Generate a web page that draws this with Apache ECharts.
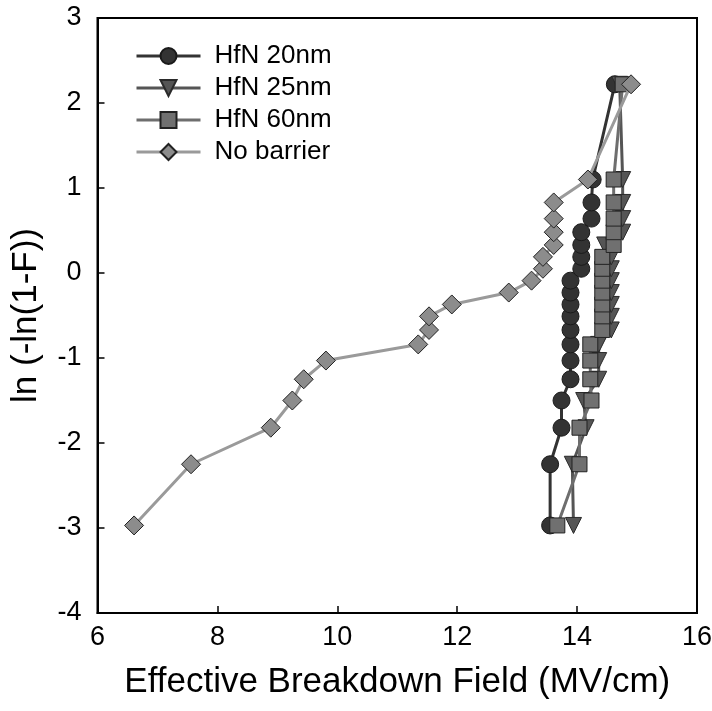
<!DOCTYPE html>
<html>
<head>
<meta charset="utf-8">
<script src="https://cdn.jsdelivr.net/npm/echarts@6/dist/echarts.min.js"></script>
<style>
  html, body { margin: 0; padding: 0; background: #fff; }
  #chart { width: 712px; height: 711px; }
</style>
</head>
<body>
<div id="chart"></div>
<script>
// Weibull plot levels: ln(-ln(1-F)) for the 20 cumulative ranks
const weibullLevels = [-2.97, -2.25, -1.82, -1.50, -1.25, -1.03, -0.84, -0.67, -0.51, -0.37,
                       -0.23, -0.09, 0.05, 0.19, 0.33, 0.48, 0.64, 0.83, 1.10, 2.22];

// Effective breakdown field (MV/cm) for each sample, sorted by rank
const hfn20Field = [13.55, 13.55, 13.74, 13.74, 13.89, 13.89, 13.89, 13.89, 13.89, 13.89,
                    13.89, 13.89, 14.07, 14.07, 14.07, 14.07, 14.24, 14.24, 14.26, 14.63];
const hfn25Field = [13.94, 13.92, 14.15, 14.11, 14.36, 14.36, 14.36, 14.57, 14.57, 14.57,
                    14.57, 14.57, 14.57, 14.57, 14.46, 14.76, 14.76, 14.76, 14.76, 14.71];
const hfn60Field = [13.67, 14.04, 14.04, 14.24, 14.22, 14.22, 14.22, 14.42, 14.42, 14.42,
                    14.42, 14.42, 14.42, 14.42, 14.61, 14.61, 14.61, 14.61, 14.61, 14.76];
const noBarrierField = [6.61, 7.56, 8.89, 9.25, 9.44, 9.81, 11.35, 11.53, 11.53, 11.91,
                        12.86, 13.24, 13.43, 13.43, 13.61, 13.61, 13.61, 13.61, 14.18, 14.90];

const seriesNames = ['HfN 20nm', 'HfN 25nm', 'HfN 60nm', 'No barrier'];
const xTicks = [6, 8, 10, 12, 14, 16];
const yTicks = [-4, -3, -2, -1, 0, 1, 2, 3];

const FONT = 'Liberation Sans, Arial, sans-serif';

function pairs(xs) {
  return xs.map((x, i) => [x, weibullLevels[i]]);
}

const styles = [
  { symbol: 'circle',   size: 17, rotate: 0,   line: '#333333', fill: '#333333', border: '#1a1a1a' },
  { symbol: 'triangle', size: 16, rotate: 180, line: '#555555', fill: '#555555', border: '#2a2a2a' },
  { symbol: 'rect',     size: 15, rotate: 0,   line: '#6e6e6e', fill: '#707070', border: '#222222' },
  { symbol: 'diamond',  size: 19, rotate: 0,   line: '#9a9a9a', fill: '#8c8c8c', border: '#222222' }
];
const fields = [hfn20Field, hfn25Field, hfn60Field, noBarrierField];

const series = seriesNames.map((name, k) => ({
  name: name,
  type: 'line',
  data: pairs(fields[k]),
  symbol: styles[k].symbol,
  symbolSize: styles[k].size,
  symbolRotate: styles[k].rotate,
  showAllSymbol: true,
  lineStyle: { color: styles[k].line, width: 3 },
  itemStyle: { color: styles[k].fill, borderColor: styles[k].border, borderWidth: 1 },
  emphasis: { disabled: true },
  animation: false,
  z: 2 + k
}));

const chart = echarts.init(document.getElementById('chart'), null, { renderer: 'canvas' });
chart.setOption({
  backgroundColor: '#ffffff',
  animation: false,
  grid: {
    left: 97.5, right: 15, top: 18, bottom: 98,
    outerBoundsMode: 'none', containLabel: false,
    show: true, borderColor: '#000', borderWidth: 2, backgroundColor: 'transparent'
  },
  legend: {
    data: seriesNames,
    orient: 'vertical',
    left: 130, top: 38,
    itemWidth: 64, itemHeight: 20, itemGap: 6,
    lineStyle: { width: 3 },
    textStyle: { fontFamily: FONT, fontSize: 26, color: '#000', padding: [0, 0, 0, 9] }
  },
  xAxis: {
    type: 'value',
    min: xTicks[0], max: xTicks[xTicks.length - 1], interval: 2,
    name: 'Effective Breakdown Field (MV/cm)',
    nameLocation: 'middle', nameGap: 52,
    nameTextStyle: { fontFamily: FONT, fontSize: 35, color: '#000' },
    axisLine: { show: true, onZero: false, lineStyle: { color: '#000', width: 2 } },
    axisTick: { show: true, inside: true, length: 7, lineStyle: { color: '#000', width: 1.5 } },
    axisLabel: { fontFamily: FONT, fontSize: 27, color: '#000', margin: 11 },
    splitLine: { show: false }
  },
  yAxis: {
    type: 'value',
    min: yTicks[0], max: yTicks[yTicks.length - 1], interval: 1,
    name: 'ln (-ln(1-F))',
    nameLocation: 'middle', nameGap: 54,
    nameTextStyle: { fontFamily: FONT, fontSize: 35, color: '#000' },
    axisLine: { show: true, onZero: false, lineStyle: { color: '#000', width: 2 } },
    axisTick: { show: true, inside: true, length: 7, lineStyle: { color: '#000', width: 1.5 } },
    axisLabel: { fontFamily: FONT, fontSize: 27, color: '#000', margin: 16 },
    splitLine: { show: false }
  },
  series: series
});
</script>
</body>
</html>
